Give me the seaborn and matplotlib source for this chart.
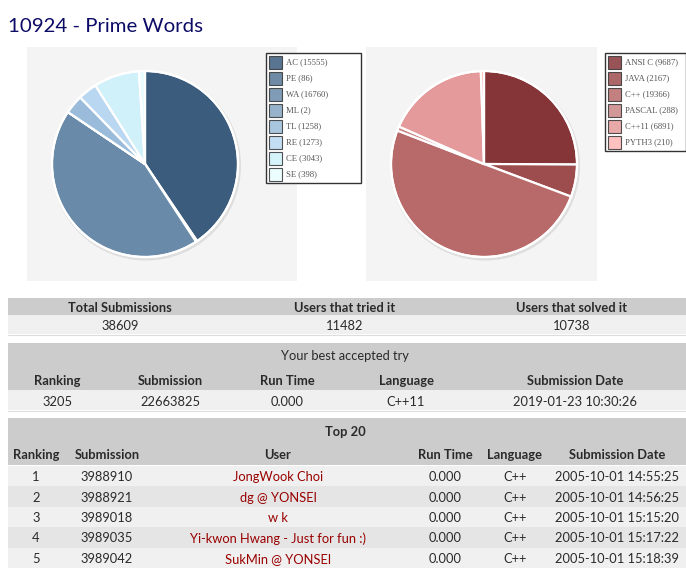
import matplotlib
matplotlib.use('Agg')
import matplotlib.pyplot as plt
from matplotlib.patches import Rectangle, Circle
import seaborn as sns

# ── Data ──────────────────────────────
VERDICTS = ['AC', 'PE', 'WA', 'ML', 'TL', 'RE', 'CE', 'SE']
VERDICT_COUNTS = [15555, 86, 16760, 2, 1258, 1273, 3043, 398]
VERDICT_COLORS = ['#3c5c7d', '#557695', '#698aa8', '#85a5c1',
                  '#9abcda', '#b9d7f0', '#d0f1fa', '#e9fdfd']

LANGS = ['ANSI C', 'JAVA', 'C++', 'PASCAL', 'C++11', 'PYTH3']
LANG_COUNTS = [9687, 2167, 19366, 288, 6891, 210]
LANG_COLORS = ['#853538', '#9e4d4f', '#b86a6a', '#cb8686',
               '#e49a9a', '#ffb5b5']

STATS_HEAD = ['Total Submissions', 'Users that tried it', 'Users that solved it']
STATS_VALS = ['38609', '11482', '10738']

BEST_HEAD = ['Ranking', 'Submission', 'Run Time', 'Language', 'Submission Date']
BEST_VALS = ['3205', '22663825', '0.000', 'C++11', '2019-01-23 10:30:26']

TOP_HEAD = ['Ranking', 'Submission', 'User', 'Run Time', 'Language',
            'Submission Date']
TOP_RANK = ['1', '2', '3', '4', '5']
TOP_SUB = ['3988910', '3988921', '3989018', '3989035', '3989042']
TOP_USER = ['JongWook Choi', 'dg @ YONSEI', 'w k',
            'Yi-kwon Hwang - Just for fun :)', 'SukMin @ YONSEI']
TOP_TIME = ['0.000', '0.000', '0.000', '0.000', '0.000']
TOP_LANG = ['C++', 'C++', 'C++', 'C++', 'C++']
TOP_DATE = ['2005-10-01 14:55:25', '2005-10-01 14:56:25',
            '2005-10-01 15:15:20', '2005-10-01 15:17:22',
            '2005-10-01 15:18:39']

# ── Setup ─────────────────────────────
sns.set_theme(style='white')
plt.rcParams['font.family'] = ['Lato', 'DejaVu Sans']

W, H = 686, 570
fig = plt.figure(figsize=(W / 100, H / 100), dpi=100)
fig.patch.set_facecolor('white')

bg = fig.add_axes([0, 0, 1, 1])
bg.set_xlim(0, W)
bg.set_ylim(H, 0)
bg.axis('off')


def px_axes(x0, y0, w, h, z=1):
    ax = fig.add_axes([x0 / W, 1 - (y0 + h) / H, w / W, h / H], zorder=z)
    ax.set_facecolor('none')
    return ax


# ── Title ─────────────────────────────
bg.text(8, 26, '10924 - Prime Words', fontsize=14.7, color='#0c0c66',
        ha='left', va='center')

# ── Pie panels ────────────────────────
bg.add_patch(Rectangle((27, 47), 270, 234, color='#f4f4f4', lw=0))
bg.add_patch(Rectangle((366, 47), 231, 234, color='#f4f4f4', lw=0))


def draw_pie(cx, cy, values, colors):
    ax = px_axes(cx - 100, cy - 100, 200, 200)
    ax.add_patch(Circle((0.012, -0.018), 1.02, color='#dedede', lw=0, zorder=0))
    ax.pie(values, colors=colors, startangle=90, counterclock=False,
           radius=1.0,
           wedgeprops=dict(edgecolor='white', linewidth=1.6))
    ax.add_patch(Circle((0, 0), 1.0, fill=False, edgecolor='white',
                        lw=1.6, zorder=5))
    ax.set_xlim(-1.075, 1.075)
    ax.set_ylim(-1.075, 1.075)
    ax.set_aspect('equal')
    ax.axis('off')


draw_pie(145, 164, VERDICT_COUNTS, VERDICT_COLORS)
draw_pie(484, 164, LANG_COUNTS, LANG_COLORS)


def draw_legend(x0, y0, w, labels, counts, colors):
    n = len(labels)
    bg.add_patch(Rectangle((x0, y0), w, 16 * n + 2, facecolor='white',
                           edgecolor='#333333', lw=1.0, zorder=3))
    for i, (lab, cnt, col) in enumerate(zip(labels, counts, colors)):
        y = y0 + 2 + 16 * i
        bg.add_patch(Rectangle((x0 + 2.5, y + 0.5), 13, 13, facecolor=col,
                               alpha=0.85, edgecolor='#333333', lw=0.8,
                               zorder=4))
        bg.text(x0 + 20, y + 7.5, f'{lab} ({cnt})', fontsize=6.2,
                family='Liberation Serif', color='#545454',
                ha='left', va='center', zorder=5)


draw_legend(266, 53, 95, VERDICTS, VERDICT_COUNTS, VERDICT_COLORS)
draw_legend(605, 53, 81, LANGS, LANG_COUNTS, LANG_COLORS)

# ── Tables ────────────────────────────
HEAD_BG = '#cccccc'
ROW_BG = '#f0f0f0'
ALT_BG = '#e5e5e5'
TXT = '#2a2a2a'
FS = 9.3
DY = 1.0  # text baseline nudge


def band(y0, y1, color):
    bg.add_patch(Rectangle((8, y0), W - 8, y1 - y0, color=color, lw=0))


def cell(x, y, s, bold=False, color=TXT):
    bg.text(x, y + DY, s, fontsize=FS, fontweight='bold' if bold else 'normal',
            color=color, ha='center', va='center')


# Stats
band(298, 315, HEAD_BG)
band(315, 334, ROW_BG)
bg.plot([8, W], [334.5, 334.5], color='#dddddd', lw=0.8)
for x, h, v in zip([120, 345, 572], STATS_HEAD, STATS_VALS):
    cell(x, 307, h, bold=True)
    cell(x, 325, v)

# Best accepted try
band(343, 390, HEAD_BG)
band(390, 410, ROW_BG)
bg.plot([8, W], [410.5, 410.5], color='#dddddd', lw=0.8)
cell(345, 355, 'Your best accepted try')
for x, h, v in zip([57, 170, 287, 406, 575], BEST_HEAD, BEST_VALS):
    cell(x, 380, h, bold=True)
    cell(x, 401, v)

# Top 20
band(418, 465, HEAD_BG)
cell(345, 431, 'Top 20', bold=True)
top_x = [36, 107, 278, 445, 515, 617]
for x, h in zip(top_x, TOP_HEAD):
    cell(x, 454, h, bold=True)

cols = [TOP_RANK, TOP_SUB, TOP_USER, TOP_TIME, TOP_LANG, TOP_DATE]
for i in range(len(TOP_RANK)):
    y0 = 465.5 + 20.5 * i
    band(y0, y0 + 20.5, ROW_BG if i % 2 == 0 else ALT_BG)
    for j, (x, col) in enumerate(zip(top_x, cols)):
        cell(x, y0 + 10.5, col[i], color='#990000' if j == 2 else TXT)

fig.savefig('out.png', dpi=100, facecolor='white')
plt.close()
